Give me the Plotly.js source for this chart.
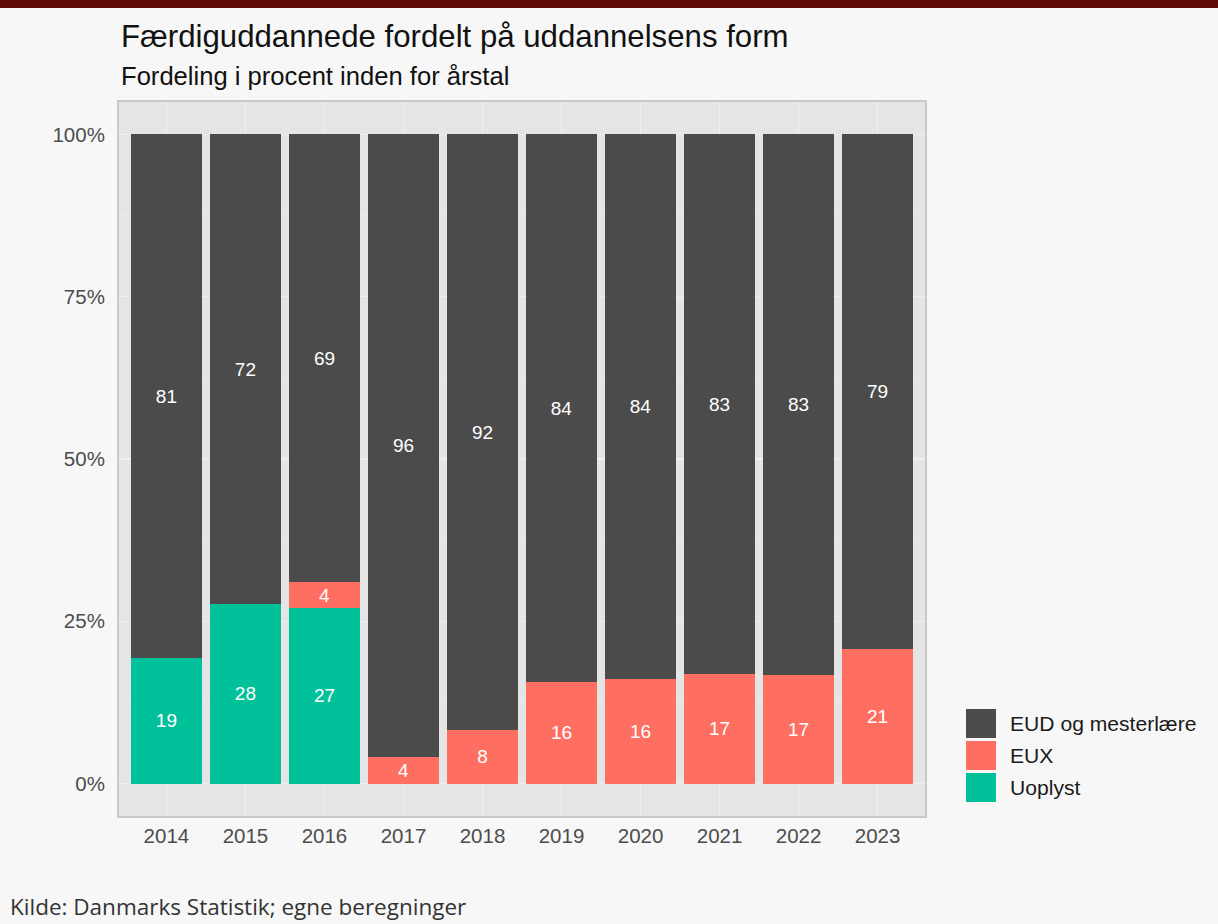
<!DOCTYPE html>
<html>
<head>
<meta charset="utf-8">
<script src="https://cdn.plot.ly/plotly-3.0.1.min.js"></script>
<style>
  html, body { margin: 0; padding: 0; background: #f7f7f7; }
  #chart { width: 1218px; height: 924px; }
</style>
</head>
<body>
<div id="chart"></div>
<script>
// ---- data (percent within each year) ----
const years = ["2014","2015","2016","2017","2018","2019","2020","2021","2022","2023"];
const uoplyst = [19.4, 27.6, 27.0, null, null, null, null, null, null, null];
const eux     = [null, null, 4.0, 4.1, 8.3, 15.7, 16.1, 16.9, 16.7, 20.7];
const eud     = [80.6, 72.4, 69.0, 95.9, 91.7, 84.3, 83.9, 83.1, 83.3, 79.3];
const seriesNames = ["Uoplyst", "EUX", "EUD og mesterlære"];
const seriesColors = ["#00c19a", "#fe6f62", "#4b4b4b"];
const yTickVals = [0, 25, 50, 75, 100];
const yTickText = ["0%", "25%", "50%", "75%", "100%"];
const titleText = "Færdiguddannede fordelt på uddannelsens form";
const subtitleText = "Fordeling i procent inden for årstal";
const sourceText = "Kilde: Danmarks Statistik; egne beregninger";
const legendOrder = ["EUD og mesterlære", "EUX", "Uoplyst"];

const FONT = "Liberation Sans, Arial, sans-serif";
const W = 1218, H = 924;
const M = {l: 119, r: 293, t: 102, b: 108};
const PW = W - M.l - M.r, PH = H - M.t - M.b;
const px2x = p => (p - M.l) / PW;
const px2y = p => (H - M.b - p) / PH;

const seriesData = [uoplyst, eux, eud];
const traces = seriesData.map((vals, i) => ({
  type: "bar",
  name: seriesNames[i],
  x: years,
  y: vals,
  marker: {color: seriesColors[i], line: {width: 0}},
  text: vals.map(v => v == null ? "" : String(Math.round(v))),
  textposition: "inside",
  insidetextanchor: "middle",
  textangle: 0,
  constraintext: "none",
  textfont: {family: FONT, size: 19, color: "#ffffff"},
  hoverinfo: "x+y+name",
  showlegend: false
}));

const shapes = [
  // top banner
  {type: "rect", xref: "paper", yref: "paper", x0: px2x(0), x1: px2x(W), y0: px2y(8), y1: px2y(0),
   fillcolor: "#5e0a06", line: {width: 0}, layer: "above"}
];
const annotations = [
  {xref: "paper", yref: "paper", x: px2x(119), y: px2y(36), xanchor: "left", yanchor: "middle",
   text: titleText, showarrow: false, font: {family: FONT, size: 31.2, color: "#111111"}},
  {xref: "paper", yref: "paper", x: px2x(119), y: px2y(76), xanchor: "left", yanchor: "middle",
   text: subtitleText, showarrow: false, font: {family: FONT, size: 25.6, color: "#111111"}},
  {xref: "paper", yref: "paper", x: px2x(8), y: px2y(924), xanchor: "left", yanchor: "bottom",
   text: sourceText, showarrow: false, font: {family: "Open Sans, sans-serif", size: 22.5, color: "#333333"}}
];
// custom legend
const legTops = [709, 741, 773];
legendOrder.forEach((name, k) => {
  const idx = seriesNames.indexOf(name);
  const top = legTops[k];
  shapes.push({type: "rect", xref: "paper", yref: "paper",
    x0: px2x(966), x1: px2x(996), y0: px2y(top + 29), y1: px2y(top),
    fillcolor: seriesColors[idx], line: {width: 0}});
  annotations.push({xref: "paper", yref: "paper", x: px2x(1008), y: px2y(top + 14.5),
    xanchor: "left", yanchor: "middle", text: name, showarrow: false,
    font: {family: FONT, size: 21.1, color: "#1a1a1a"}});
});

const layout = {
  width: W, height: H,
  margin: M,
  paper_bgcolor: "#f7f7f7",
  plot_bgcolor: "#e5e5e5",
  barmode: "stack",
  bargap: 0.1,
  showlegend: false,
  font: {family: FONT},
  xaxis: {
    type: "category",
    range: [-0.6, 9.6],
    showgrid: true, gridcolor: "#efefef", gridwidth: 1.5,
    showline: true, mirror: true, linecolor: "#c9c9c9", linewidth: 2,
    ticks: "", tickfont: {family: FONT, size: 20.5, color: "#4d4d4d"},
    ticklabelstandoff: 0,
    zeroline: false, fixedrange: true
  },
  yaxis: {
    range: [-5, 105],
    tickvals: yTickVals, ticktext: yTickText,
    showgrid: true, gridcolor: "#efefef", gridwidth: 1.5,
    minor: {dtick: 12.5, tick0: 0, showgrid: true, gridcolor: "#ebebeb", gridwidth: 0.8},
    showline: true, mirror: true, linecolor: "#c9c9c9", linewidth: 2,
    ticks: "", tickfont: {family: FONT, size: 20.5, color: "#4d4d4d"},
    ticklabelstandoff: 8,
    zeroline: false, fixedrange: true
  },
  shapes: shapes,
  annotations: annotations
};

Plotly.newPlot("chart", traces, layout, {displayModeBar: false, staticPlot: true});
</script>
</body>
</html>
